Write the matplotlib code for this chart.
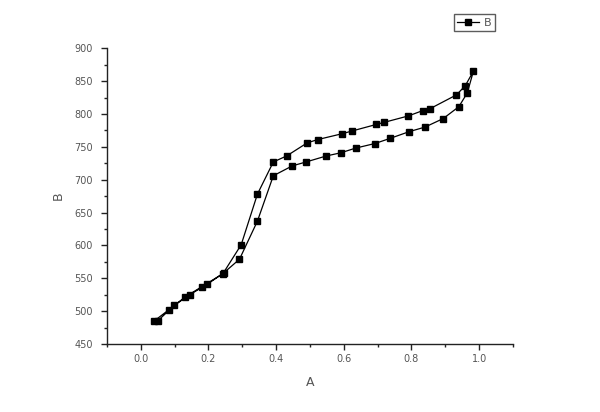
import matplotlib
matplotlib.use("Agg")
import matplotlib.pyplot as plt
from matplotlib.ticker import MultipleLocator

# one series, lower branch up then upper branch back down
a_values = [0.05, 0.1, 0.145, 0.197, 0.245, 0.292, 0.345, 0.392, 0.448, 0.489,
            0.548, 0.592, 0.635, 0.692, 0.738, 0.793, 0.84, 0.894, 0.94, 0.965,
            0.983,
            0.959, 0.933, 0.855, 0.833, 0.791, 0.718, 0.696, 0.624, 0.596, 0.523,
            0.492, 0.431, 0.392, 0.345, 0.297, 0.243, 0.18, 0.13, 0.083, 0.04]
b_values = [485, 509, 525, 541, 558, 579, 637, 706, 721, 727,
            736, 741, 748, 755, 763, 773, 780, 793, 811, 832,
            865,
            843, 829, 808, 805, 797, 787, 784, 774, 770, 761,
            756, 736, 727, 678, 601, 557, 537, 521, 502, 485]

grey = "#555555"

fig = plt.figure(figsize=(6, 4.12), dpi=100)
ax = fig.add_axes([0.178, 0.165, 0.677, 0.718])

ax.plot(a_values, b_values, color="black", lw=0.9, marker="s", ms=5,
        label="B")

ax.set_xlim(-0.1, 1.1)
ax.set_ylim(450, 900)
ax.xaxis.set_major_locator(MultipleLocator(0.2))
ax.xaxis.set_minor_locator(MultipleLocator(0.1))
ax.yaxis.set_major_locator(MultipleLocator(50))
ax.yaxis.set_minor_locator(MultipleLocator(25))
ax.set_xticks([0.0, 0.2, 0.4, 0.6, 0.8, 1.0])
ax.set_xticklabels(["0.0", "0.2", "0.4", "0.6", "0.8", "1.0"])

for s in ["top", "right"]:
    ax.spines[s].set_visible(False)
for s in ["left", "bottom"]:
    ax.spines[s].set_linewidth(1.0)
    ax.spines[s].set_color("#222222")

ax.tick_params(which="major", direction="out", length=4, width=1,
               labelsize=7, labelcolor=grey, color="#222222")
ax.tick_params(axis="y", which="major", pad=6)
ax.tick_params(which="minor", direction="out", length=2, width=1,
               color="#222222")

ax.set_xlabel("A", fontsize=9, color=grey, labelpad=8)
ax.set_ylabel("B", fontsize=9, color=grey, labelpad=7)

leg = ax.legend(loc="upper right", bbox_to_anchor=(0.955, 1.115),
                fontsize=8, frameon=True, fancybox=False, handlelength=2,
                borderpad=0.3, handletextpad=0.4, borderaxespad=0)
leg.get_frame().set_edgecolor("#333333")
leg.get_frame().set_linewidth(1.0)
for t in leg.get_texts():
    t.set_color(grey)

fig.savefig("out.png", dpi=100)
